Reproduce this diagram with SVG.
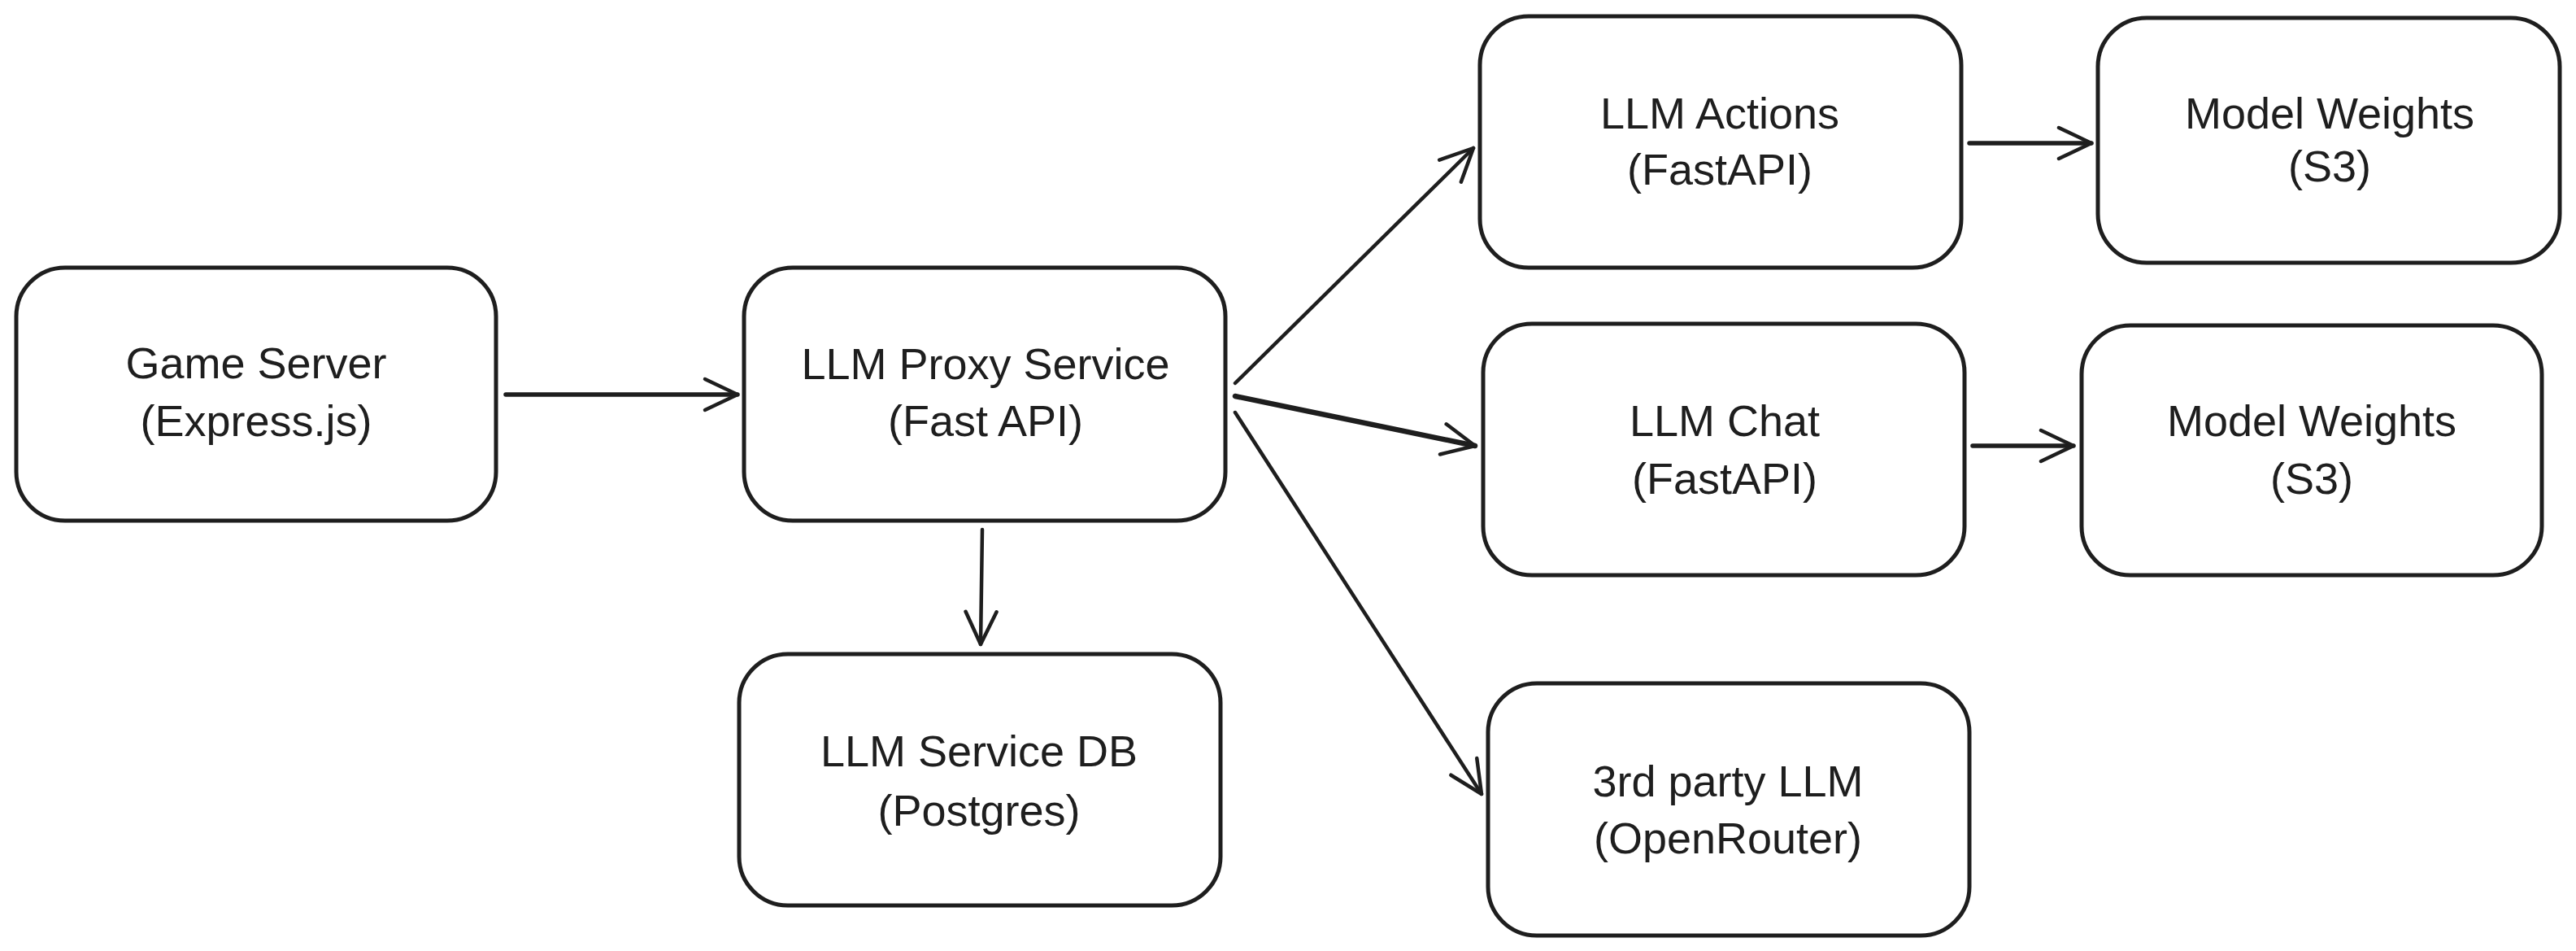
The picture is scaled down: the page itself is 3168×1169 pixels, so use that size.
<svg xmlns="http://www.w3.org/2000/svg" width="3168" height="1169" viewBox="0 0 3168 1169">
<style>
.box{fill:#ffffff;stroke:#1e1e1e;stroke-width:5}
.lbl{font-family:"Liberation Sans","DejaVu Sans",sans-serif;font-size:54px;fill:#1e1e1e;text-anchor:middle;dominant-baseline:central}
.conn{stroke:#1e1e1e;stroke-width:4.5;fill:none;stroke-linecap:round}
</style>
<defs>
<marker id="arr" markerUnits="userSpaceOnUse" markerWidth="60" markerHeight="60" refX="48" refY="30" orient="auto" viewBox="0 0 60 60">
<path d="M8,11 L48,30 L8,49" fill="none" stroke="#1e1e1e" stroke-width="4.5" stroke-linecap="round" stroke-linejoin="round"/>
</marker>
</defs>
<rect width="3168" height="1169" fill="#ffffff"/>
<g id="connectors">
<line class="conn" x1="622" y1="485" x2="907" y2="485" marker-end="url(#arr)" style="stroke-width:5.5"/>
<line class="conn" x1="1208" y1="651" x2="1206" y2="792" marker-end="url(#arr)"/>
<line class="conn" x1="1519" y1="471" x2="1812" y2="182" marker-end="url(#arr)"/>
<line class="conn" x1="1519" y1="487" x2="1814" y2="548" marker-end="url(#arr)" style="stroke-width:6.5"/>
<line class="conn" x1="1519" y1="507" x2="1822" y2="976" marker-end="url(#arr)"/>
<line class="conn" x1="2422" y1="176" x2="2572" y2="176" marker-end="url(#arr)" style="stroke-width:5.5"/>
<line class="conn" x1="2426" y1="548" x2="2550" y2="548" marker-end="url(#arr)" style="stroke-width:5.5"/>
</g>
<g id="game-server">
<rect class="box" x="20" y="329" width="590" height="311" rx="60"/>
<text class="lbl" x="315" y="446">Game Server</text>
<text class="lbl" x="315" y="517">(Express.js)</text>
</g>
<g id="llm-proxy">
<rect class="box" x="915" y="329" width="592" height="311" rx="60"/>
<text class="lbl" x="1212" y="447">LLM Proxy Service</text>
<text class="lbl" x="1212" y="517">(Fast API)</text>
</g>
<g id="llm-db">
<rect class="box" x="909" y="804" width="592" height="309" rx="60"/>
<text class="lbl" x="1204" y="923">LLM Service DB</text>
<text class="lbl" x="1204" y="996">(Postgres)</text>
</g>
<g id="llm-actions">
<rect class="box" x="1820" y="20" width="592" height="309" rx="60"/>
<text class="lbl" x="2115" y="139">LLM Actions</text>
<text class="lbl" x="2115" y="208">(FastAPI)</text>
</g>
<g id="weights-1">
<rect class="box" x="2580" y="22" width="568" height="301" rx="60"/>
<text class="lbl" x="2865" y="139">Model Weights</text>
<text class="lbl" x="2865" y="204">(S3)</text>
</g>
<g id="llm-chat">
<rect class="box" x="1824" y="398" width="592" height="309" rx="60"/>
<text class="lbl" x="2121" y="517">LLM Chat</text>
<text class="lbl" x="2121" y="588">(FastAPI)</text>
</g>
<g id="weights-2">
<rect class="box" x="2560" y="400" width="566" height="307" rx="60"/>
<text class="lbl" x="2843" y="517">Model Weights</text>
<text class="lbl" x="2843" y="588">(S3)</text>
</g>
<g id="third-party">
<rect class="box" x="1830" y="840" width="592" height="310" rx="60"/>
<text class="lbl" x="2125" y="960">3rd party LLM</text>
<text class="lbl" x="2125" y="1030">(OpenRouter)</text>
</g>
</svg>
